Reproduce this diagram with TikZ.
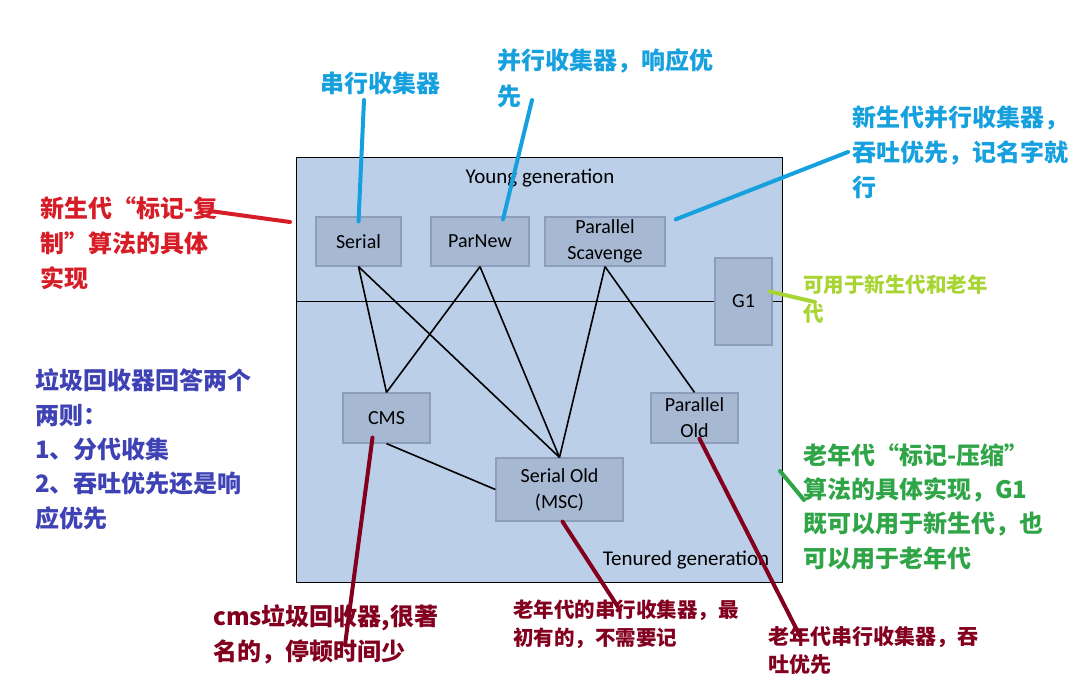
\documentclass[tikz,border=0pt]{standalone}
\usepackage{fontspec}
\setmainfont{Carlito}
\newfontfamily\cjk{Noto Sans CJK SC}
\definecolor{areafill}{RGB}{188,207,232}
\definecolor{boxfill}{RGB}{166,184,210}
\definecolor{boxline}{RGB}{140,158,186}
\definecolor{noteblue}{RGB}{22,160,222}
\definecolor{notered}{RGB}{214,28,38}
\definecolor{notedark}{RGB}{130,0,30}
\definecolor{notegreen}{RGB}{48,165,72}
\definecolor{notelime}{RGB}{168,212,52}
\definecolor{noteviolet}{RGB}{62,66,180}
\begin{document}
\begin{tikzpicture}[x=1pt,y=-1pt,
    gc/.style={draw=boxline, fill=boxfill, line width=1.2pt, align=center,
      font=\fontsize{20}{26}\selectfont, inner sep=0pt},
    note/.style={anchor=base west, align=left, inner sep=0pt,
      font=\cjk\bfseries\fontsize{24}{35}\selectfont},
    pointer/.style={line width=4pt, line cap=round}]
  \useasboundingbox (0,0) rectangle (1076,694);

  % generation area
  \node[draw, fill=areafill, line width=0.8pt, minimum width=486pt,
    minimum height=425pt, inner sep=0pt] (gen) at (539,369.5) {};
  \node[font=\fontsize{21}{24}\selectfont] (young) at (540,178) {Young generation};
  \node[font=\fontsize{21}{24}\selectfont] (old) at (686,560) {Tenured generation};

  % collectors
  \node[gc, minimum width=85pt, minimum height=49pt] (Ser) at (358.5,241.5) {Serial};
  \node[gc, minimum width=98pt, minimum height=49pt] (ParN) at (480,241.5) {ParNew};
  \node[gc, minimum width=120pt, minimum height=49pt] (PS) at (605,241.5) {Parallel\\Scavenge};
  \node[gc, minimum width=87pt, minimum height=50pt] (CMS) at (386.5,418) {CMS};
  \node[gc, minimum width=87pt, minimum height=50pt] (PO) at (694.5,418) {Parallel\\Old};
  \node[gc, minimum width=127pt, minimum height=63pt] (SO) at (559.5,489.5) {Serial Old\\(MSC)};

  % pairs that work together
  \draw[line width=1.6pt] (Ser.south) -- (CMS.north);
  \draw[line width=1.6pt] (Ser.south) -- (SO.north);
  \draw[line width=1.6pt] (ParN.south) -- (CMS.north);
  \draw[line width=1.6pt] (ParN.south) -- (SO.north);
  \draw[line width=1.6pt] (PS.south) -- (SO.north);
  \draw[line width=1.6pt] (PS.south) -- (PO.north);
  \draw[line width=1.6pt] (CMS.south) -- (SO.west);

  \draw[line width=0.8pt] (gen.west |- 0,301) -- (gen.east |- 0,301);
  \node[gc, minimum width=57pt, minimum height=87pt] (G1) at (743.5,301.5) {G1};

  % notes (placed at the baseline of their last line)
  \node[note, text=noteblue] (nSer) at (320,92) {串行收集器};
  \node[note, text=noteblue, font=\cjk\bfseries\fontsize{24}{36}\selectfont] (nParN) at (497,105)
    {并行收集器，响应优\\先};
  \node[note, text=noteblue] (nPS) at (852,196) {新生代并行收集器，\\吞吐优先，记名字就\\行};
  \node[note, text=notered] (nYoung) at (40,287) {新生代“标记-复\\制”算法的具体\\实现};
  \node[note, text=notelime, font=\cjk\bfseries\fontsize{20.5}{29}\selectfont] (nG1) at (803,321)
    {可用于新生代和老年\\代};
  \node[note, text=noteviolet, font=\cjk\bfseries\fontsize{24}{34.3}\selectfont] (nRule) at (35,527)
    {垃圾回收器回答两个\\两则：\\1、分代收集\\2、吞吐优先还是响\\应优先};
  \node[note, text=notegreen, font=\cjk\bfseries\fontsize{24}{34.3}\selectfont] (nOld) at (803,567)
    {老年代“标记-压缩”\\算法的具体实现，G1\\既可以用于新生代，也\\可以用于老年代};
  \node[note, text=notedark] (nCMS) at (213,660) {cms垃圾回收器,很著\\名的，停顿时间少};
  \node[note, text=notedark, font=\cjk\bfseries\fontsize{20.5}{28}\selectfont] (nSO) at (513,645)
    {老年代的串行收集器，最\\初有的，不需要记};
  \node[note, text=notedark, font=\cjk\bfseries\fontsize{21}{28}\selectfont] (nPO) at (768,672)
    {老年代串行收集器，吞\\吐优先};

  % pointers
  \coordinate (pSer) at (364,100);
  \coordinate (pParN) at (532,100);
  \coordinate (pPS) at (848,152);
  \coordinate (pYoung) at (210,211);
  \coordinate (pYoungEnd) at (290,222);
  \coordinate (pG1) at (815,302);
  \coordinate (pOld) at (804,500);
  \coordinate (pOldEnd) at (780,471);
  \coordinate (pCMS) at (345,645);
  \coordinate (pSO) at (620,610);
  \coordinate (pPO) at (800,636);
  \draw[pointer, noteblue] (pSer) -- ([yshift=-5pt]Ser.north);
  \draw[pointer, noteblue] (pParN) -- ([xshift=23pt,yshift=-3pt]ParN.north);
  \draw[pointer, noteblue] (pPS) -- ([xshift=10pt,yshift=-3pt]PS.north east);
  \draw[pointer, notered] (pYoung) -- (pYoungEnd);
  \draw[pointer, notelime] ([xshift=-3pt,yshift=10pt]G1.east) -- (pG1);
  \draw[pointer, notegreen] (pOldEnd) -- (pOld);
  \draw[pointer, notedark] ([xshift=-14pt,yshift=6pt]CMS.south) -- (pCMS);
  \draw[pointer, notedark] ([xshift=3pt]SO.south) -- (pSO);
  \draw[pointer, notedark] ([xshift=5pt,yshift=5pt]PO.south) -- (pPO);
\end{tikzpicture}
\end{document}
